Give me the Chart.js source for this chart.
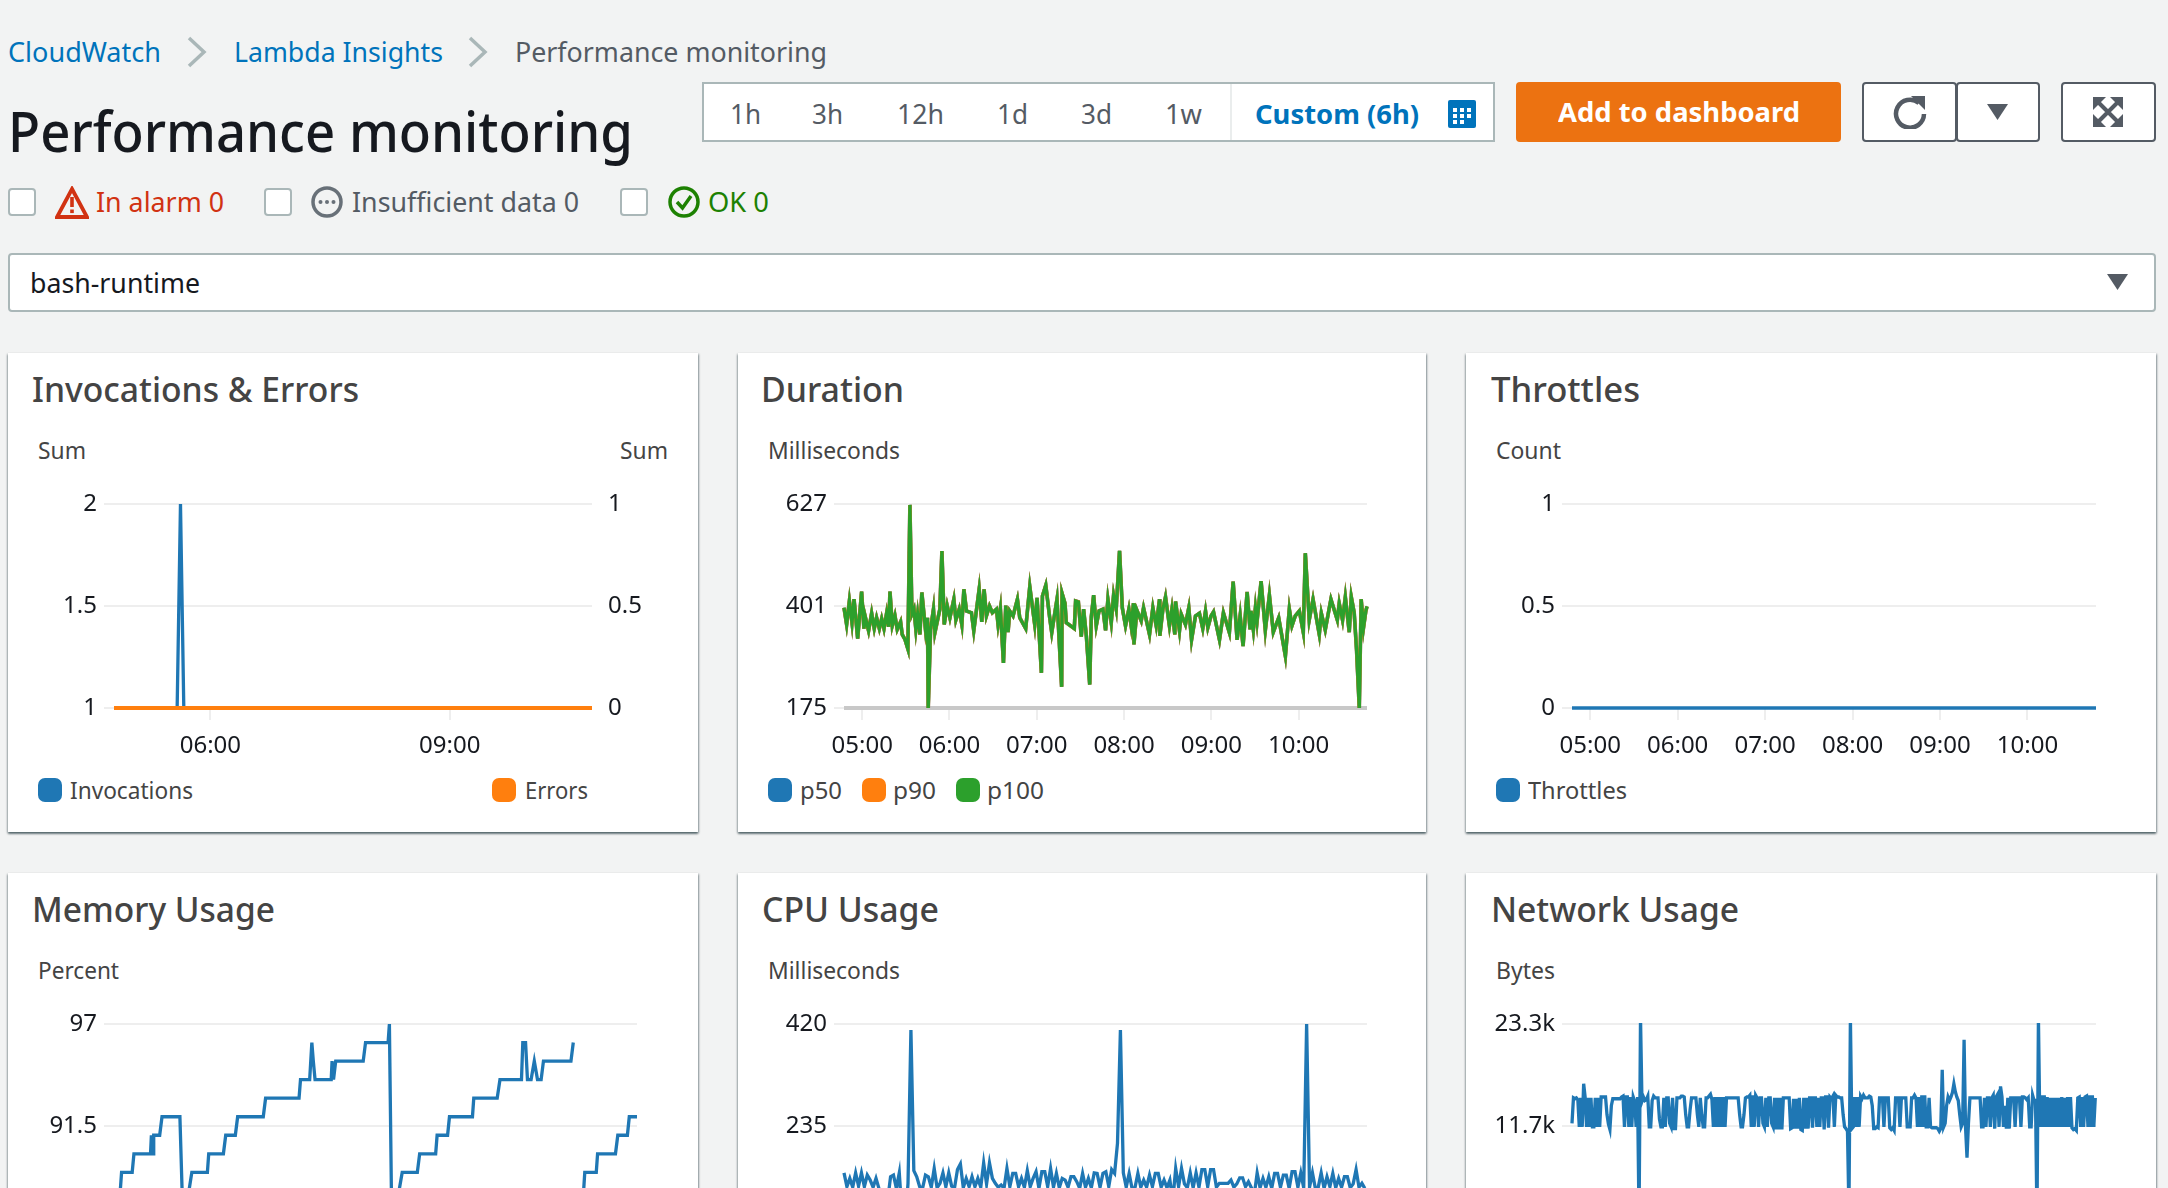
<!DOCTYPE html>
<html><head><meta charset="utf-8"><title>Performance monitoring</title>
<script src="https://cdn.jsdelivr.net/npm/chart.js@4/dist/chart.umd.min.js"></script>
<style>
html,body{margin:0;padding:0;width:2168px;height:1188px;overflow:hidden;background:#f2f3f3;font-family:"Noto Sans",sans-serif}
#page{position:relative;width:2168px;height:1188px;overflow:hidden}
.t{position:absolute;white-space:nowrap;transform-origin:0 50%}
.box{position:absolute;box-sizing:border-box;background:#fff}
.panel{box-shadow:0 2px 2px rgba(0,28,36,.45),1px 1px 2px rgba(0,28,36,.3),-1px 1px 2px rgba(0,28,36,.2)}
.cb{border:2px solid #aab7b8;border-radius:4px}
.sw{position:absolute;width:24px;height:24px;border-radius:7px}
canvas{position:absolute}
svg{position:absolute}
</style></head><body><div id="page"></div>
<script>
const hourTicks=[300,360,420,480,540,600];
const invTicks=[360,540];
const invLeftTicks=[1,1.5,2];
const invRightTicks=[0,0.5,1];
const durationTicks=[175,401,627];
const throttleTicks=[0,0.5,1];
const memoryTicks=[86,91.5,97];
const cpuTicks=[50,235,420];
const networkTicks=[0.1,11.7,23.3];
const rangeStart=287.5, rangeEnd=647, cpuStep=2, networkStep=1;

const invocationTimes=[287.5,335,337.5,340,647];
const invocationValues=[1,1,2,1,1];
const errorTimes=[287.5,647];
const errorValues=[0,0];
const throttleTimes=[287.5,647];
const throttleValues=[0,0];

const durationTimes=[287.5,289.3,291.2,293,294.4,296.9,299.6,301.2,301.9,304.4,
306.5,308.3,309.9,311.8,313.4,315,316.8,318.2,319.1,320.7,
322.5,324.1,326.4,327.5,329.4,331.4,332.8,334.2,335.6,336.9,
338.1,339.7,341,343.6,344.9,345.4,347,349,350,353.4,
354.8,356.4,358.4,360.3,363,364.4,366.7,368.5,369.9,371.7,
375.1,376.7,380.4,382.2,383.8,385.4,387.5,389.5,392.3,393.4,
395,397.1,398.7,400.3,401.4,403.7,406.7,408.3,412.4,415.2,
418.6,420.2,423.2,423.9,426.2,428.9,430.3,433.9,437.1,437.4,
439.4,440.3,445.8,446.7,448.6,450.6,452.2,454.1,456.4,457.5,
459.1,460.9,462.8,465.5,467.3,468.9,
471.2,472.8,474.6,476.9,478.8,481,483.3,484.9,486.5,486.8,
488.8,491.8,493.4,497.5,499.8,502.1,504.4,504.6,506.7,508.5,
511.2,512.9,514.9,515.4,518.1,519.3,522.2,524.5,526.4,529.1,
531.8,534.1,536,537.6,539.8,541.5,545.6,548.3,552.4,555,
557.7,559.8,561.8,564.6,566.6,567.3,568.9,570.3,571.4,574.2,
577.1,579.9,582.6,586.3,590.9,593.6,595.4,597.7,600.5,603.2,
604.6,607.3,609.9,614.2,615.6,618.3,622.2,626.6,627.9,630.2,
632.1,634.8,636.2,638.2,639.8,641.7,643,644.6,646.2,647];
const durationValues=[397,360,412,364,416,329,433,351,380,346,
385,351,375,351,373,351,385,355,433,358,
380,349,366,338,327,306,625,383,394,349,
383,338,431,346,375,175,349,394,342,394,
523,360,402,375,416,370,394,360,438,390,
386,346,438,366,438,379,401,386,394,360,
395,275,402,343,390,379,416,375,351,444,
360,419,253,423,447,375,342,416,222,429,
407,364,351,412,410,333,394,334,227,377,
425,357,390,394,347,416,
364,425,394,523,397,357,394,357,407,316,
392,368,397,338,397,357,416,335,394,421,
357,394,338,411,346,383,360,397,326,379,
385,351,390,353,379,388,326,386,342,455,
326,380,312,432,349,390,348,397,366,456,
347,425,343,375,290,394,357,379,390,343,
518,370,416,338,385,348,416,370,407,370,
421,343,421,386,305,175,416,353,390,400];
const durationFloorTimes=[287.5,647];
const durationFloorValues=[175,175];

const memoryTimes=[287.4,291.8,292.7,300,301.2,312.6,313.2,314.5,314.8,318.9,
320.5,332.8,334.7,339,341,351.7,352.6,362.7,364.3,370.9,
372.5,390.1,391.7,414.7,415.7,422,423.5,424.5,425.7,436.8,
437.4,438.4,439.9,458.8,460.4,475.9,476.8,478.4,483.4,485.6,
496,497.6,508.6,509.6,516.8,518.1,533.9,534.8,550.9,552.8,
567.6,568.5,570.4,571.7,574.2,576.4,578.6,581.1,582.7,601.6,
603.2,604,609.5,611.1,619,619.9,632.2,633.8,640.4,641.7,647];
const memoryValues=[88,88,89,89,90,90,91,90,91,91,
92,92,87,88,89,89,90,90,91,91,
92,92,93,93,94,94,96,95,94,94,
95,94,95,95,96,96,97,86.5,88,89,
89,90,90,91,91,92,92,93,93,94,
94,96,96,94,94,95,94,94,95,95,
96,null,87,89,89,90,90,91,91,92,92];

const cpuValues=[150,125,140,124,150,126,150,125,146,137,124,140,122,85,70,100,143,146,122,150,
70,60,131,409,154,143,125,122,146,143,124,158,123,131,150,125,150,126,123,156,
166,123,140,125,143,125,140,124,168,130,168,140,131,124,128,122,158,125,149,149,
125,140,124,154,125,140,152,122,152,152,125,158,124,149,123,140,137,124,143,143,
134,122,149,124,140,123,150,149,124,149,152,125,156,149,204,409,150,124,149,122,
123,149,124,137,124,146,125,149,149,124,137,123,137,100,158,125,158,130,123,150,
123,150,124,156,156,125,156,156,124,131,131,131,131,137,124,130,141,141,125,134,
123,110,150,123,140,124,143,122,149,149,124,146,146,122,152,152,124,150,123,420,
124,150,122,124,150,122,143,125,149,123,140,124,143,143,123,130,156,124,131,122];

const networkValues=[12,14.9,14.8,14.9,14.7,11.6,14.9,11.6,16.5,15,11.6,14.9,11.6,14.9,11.6,11.6,14.9,11.6,14.9,11.6,
15,15,15,15,13,11.9,11.3,14,14.8,14.8,14.8,14.8,14.8,14.8,15,15.1,11.6,15,15,11.6,
15,11.6,15,14.5,11.6,15,1,24,14.5,15,14.6,14.7,15.1,11.6,11.6,14.6,15.1,14.9,14.9,14.9,
12.5,11.6,11.6,14.9,11.6,14.9,14.9,12,11.6,14.9,11.4,11.4,14.9,14.9,14.9,15.1,15.1,15,13,11.6,
11.6,13.5,14.9,14.9,14.9,14.9,13,11.6,14.9,13,11.6,11.6,14.9,14.9,15.1,15.3,14.7,11.6,15,11.6,
15,11.6,15,11.6,15,11.6,14.9,14.9,14.9,14.9,14.9,14.9,14.9,14.9,14.9,13,11.6,11.6,13,14.9,
15,15,15.2,11.6,15.2,11.6,15.2,14.9,11.6,14.9,14.9,12,11.6,14.9,11.6,14.9,14.9,12,11.6,14.9,
11.3,14.9,11.3,14.9,11.3,14.9,14.9,14.9,14.9,14.9,11.4,11.5,14.8,11.4,14.8,11.4,14.9,11.3,11.2,14.9,
11.4,14.9,11.4,14.9,14.9,11.5,14.9,14.9,11.6,14.9,11.6,14.9,14.9,11.3,15,15,11.5,15,14.8,15.1,
11.6,15.2,15,15,14.9,14.9,13,11.6,11.4,11.1,2,24,11.4,11.6,15,11.6,15,11.6,15.1,14.8,
15.2,14.9,14.9,14.9,15.1,15,14,11.4,11.4,11.6,11.5,14.9,14.9,14.9,11.6,14.9,14.9,14.9,11.5,11.3,
11.5,11.2,14.9,14.9,14.9,11.6,14.9,14.9,14.9,14.9,11.6,11.6,11.6,14.9,14.9,15.2,14.9,11.6,15,11.6,
15.2,11.6,15.2,11.6,11.6,14.9,11.6,11.5,11.5,11.5,11.5,11.4,11.1,11.4,18.1,11.6,12,14,15,14.6,
15,15.5,16.5,15.6,15,14.6,13,11.6,12,21.5,11.5,8.1,12,14.9,14.9,14.9,14.9,14.9,14.9,14.9,
14.9,11.6,11.6,14.9,11.6,14.9,14.9,11.6,14.9,15.2,11.4,15,15.3,11.6,16.2,15,11.6,14,11.4,14.9,
11.4,14.9,14.9,14.9,11.6,14.9,14.9,14.9,11.6,15,15,14.9,14.7,14.9,11.6,11.6,15.2,14.6,14.6,1,
24,11.6,15.2,11.6,15.2,11.6,15,11.6,14.9,11.6,14.9,11.6,14.9,11.6,14.9,11.6,15,11.6,14.9,11.6,
15,11.6,15,11.5,11.3,11.4,11.2,14.9,15,11.6,15,11.6,15,15.1,11.6,15.2,11.6,15.2,11.6,14.9];

const BLUE='#1f77b4',ORANGE='#ff7f0e',GREEN='#2ca02c',GRID='#eeeeee',FLOOR='#c8c8c8';
const INK='#16191f',GREY='#545b64',TITLE='#444444',LINK='#0073bb';
const page=document.getElementById('page');
const FONT='"Noto Sans",sans-serif';

function box(x,y,w,h,cls,extra){const d=document.createElement('div');d.className='box '+(cls||'');d.style.cssText=`left:${x}px;top:${y}px;width:${w}px;height:${h}px;${extra||''}`;page.appendChild(d);return d;}
const fits=[];
function text(s,x,cy,size,color,w,weight){const d=document.createElement('div');d.className='t';d.textContent=s;d.style.cssText=`left:${x}px;top:${cy-size*0.7}px;height:${size*1.4}px;line-height:${size*1.4}px;font-size:${size}px;color:${color};font-weight:${weight||400};`;page.appendChild(d);if(w)fits.push([d,w]);return d;}
function svg(x,y,w,h,body){const wrap=document.createElement('div');wrap.innerHTML=`<svg style="left:${x}px;top:${y}px" width="${w}" height="${h}" viewBox="0 0 ${w} ${h}">${body}</svg>`;page.appendChild(wrap.firstChild);}
function swatch(x,y,c){const d=document.createElement('div');d.className='sw';d.style.cssText=`left:${x}px;top:${y}px;background:${c}`;page.appendChild(d);}

// ---- header ----
text('CloudWatch',8,52,27,LINK,153);
svg(186,36,22,32,'<path d="M3 2 L18 16 L3 30" fill="none" stroke="#aab7b8" stroke-width="3.5"/>');
text('Lambda Insights',234,52,27,LINK,209);
svg(467,36,22,32,'<path d="M3 2 L18 16 L3 30" fill="none" stroke="#aab7b8" stroke-width="3.5"/>');
text('Performance monitoring',515,52,27,GREY,312);
text('Performance monitoring',8,130,56,INK,625,500);

box(702,82,793,60,'','border:2px solid #aab7b8;');
box(1230,84,2,56,'','background:#eaeded;');
[['1h',730,31],['3h',812,31],['12h',897,47],['1d',997,31],['3d',1081,31],['1w',1165,37]].forEach(a=>text(a[0],a[1],114,27,GREY,a[2]));
text('Custom (6h)',1255,114,27,LINK,164,700);
svg(1448,100,28,28,'<rect width="28" height="28" rx="2" fill="#0073bb"/><g fill="#fff"><rect x="5" y="8" width="4" height="4"/><rect x="12" y="8" width="4" height="4"/><rect x="19" y="8" width="4" height="4"/><rect x="5" y="14" width="4" height="4"/><rect x="12" y="14" width="4" height="4"/><rect x="19" y="14" width="4" height="4"/><rect x="5" y="20" width="4" height="4"/><rect x="12" y="20" width="4" height="4"/></g>');
box(1516,82,325,60,'','background:#ec7211;border-radius:4px;');
text('Add to dashboard',1558,112,27,'#ffffff',242,700);
box(1862,82,95,60,'','border:2px solid #545b64;border-radius:4px;');
box(1956,82,84,60,'','border:2px solid #545b64;border-radius:4px;');
box(2061,82,95,60,'','border:2px solid #545b64;border-radius:4px;');
svg(1893,95,34,34,'<path d="M26 8 A14 14 0 1 0 31 19" fill="none" stroke="#545b64" stroke-width="4.5"/><path d="M18 1 L32 1 L32 15 Z" fill="#545b64"/>');
svg(1987,103,22,18,'<path d="M0 1 L21 1 L10.5 17 Z" fill="#545b64"/>');
svg(2093,97,30,30,'<g fill="#545b64"><path d="M0 0H13L0 13Z"/><path d="M30 0H17L30 13Z"/><path d="M0 30H13L0 17Z"/><path d="M30 30H17L30 17Z"/></g><path d="M4 4L26 26M26 4L4 26" stroke="#545b64" stroke-width="4"/>');

box(8,188,28,28,'cb');
svg(55,186,34,33,'<path d="M17 3 L32 31 L2 31 Z" fill="none" stroke="#d13212" stroke-width="3.8" stroke-linejoin="miter"/><rect x="15.2" y="11" width="3.6" height="10" fill="#d13212"/><rect x="15.2" y="23.5" width="3.6" height="3.6" fill="#d13212"/>');
text('In alarm 0',96,202,27,'#d13212',128);
box(264,188,28,28,'cb');
svg(311,186,32,32,'<circle cx="16" cy="16" r="14" fill="none" stroke="#687078" stroke-width="3.5"/><g fill="#687078"><circle cx="9.5" cy="16" r="2"/><circle cx="16" cy="16" r="2"/><circle cx="22.5" cy="16" r="2"/></g>');
text('Insufficient data 0',352,202,27,GREY,227);
box(620,188,28,28,'cb');
svg(668,186,32,32,'<circle cx="16" cy="16" r="14" fill="none" stroke="#1d8102" stroke-width="3.5"/><path d="M9 16 L14.5 22 L23 10" fill="none" stroke="#1d8102" stroke-width="3.5"/>');
text('OK 0',708,202,27,'#1d8102',61);

box(8,253,2148,59,'','border:2px solid #aab7b8;border-radius:4px;');
text('bash-runtime',30,283,27,INK,170);
svg(2107,274,22,17,'<path d="M0 0 L21 0 L10.5 16 Z" fill="#545b64"/>');

// ---- panels ----
function panel(x,y,w,h){box(x,y,w,h,'panel');}
panel(8,353,690,479);panel(738,353,688,479);panel(1466,353,690,479);
panel(8,873,690,400);panel(738,873,688,400);panel(1466,873,690,400);

text('Invocations & Errors',32,390,34,TITLE,327,500);
text('Sum',38,450,24,TITLE,48);
text('Sum',620,450,24,TITLE,48);
swatch(38,778,BLUE);text('Invocations',70,790,24,TITLE,123);
swatch(492,778,ORANGE);text('Errors',525,790,24,TITLE,63);

text('Duration',761,390,34,TITLE,143,500);
text('Milliseconds',768,450,24,TITLE,132);
swatch(768,778,BLUE);text('p50',800,790,24,TITLE,42);
swatch(862,778,ORANGE);text('p90',893,790,24,TITLE,43);
swatch(956,778,GREEN);text('p100',987,790,24,TITLE,57);

text('Throttles',1491,390,34,TITLE,149,500);
text('Count',1496,450,24,TITLE,65);
swatch(1496,778,BLUE);text('Throttles',1528,790,24,TITLE,99);

text('Memory Usage',32,910,34,TITLE,243,500);
text('Percent',38,970,24,TITLE,81);
text('CPU Usage',762,910,34,TITLE,177,500);
text('Milliseconds',768,970,24,TITLE,132);
text('Network Usage',1491,910,34,TITLE,248,500);
text('Bytes',1496,970,24,TITLE,59);

// ---- charts ----
Chart.defaults.font.family=FONT;
Chart.defaults.animation=false;
const hhmm=m=>String(Math.floor(m/60)).padStart(2,'0')+':'+String(Math.round(m%60)).padStart(2,'0');
const pts=(ts,vs)=>vs.map((v,i)=>({x:ts[i],y:v}));
const uniform=(vs,step)=>vs.map((v,i)=>({x:rangeStart+i*step,y:v}));
function line(label,data,color,opts){return Object.assign({label,data,borderColor:color,backgroundColor:color,borderWidth:3.3,pointRadius:0,tension:0,fill:false,borderJoinStyle:'miter',clip:{left:2,right:2,top:1,bottom:3}},opts||{});}
const tickFont={size:24,family:FONT};
function yScale(ticks,pos,fmt,right){return {
  type:'linear',position:pos,min:ticks[0],max:ticks[ticks.length-1],
  afterBuildTicks:s=>{s.ticks=ticks.map(v=>({value:v}));},
  afterFit:s=>{s.width=106;},
  border:{display:false},
  grid:right?{display:true,drawOnChartArea:false,drawTicks:true,tickLength:8,tickColor:'rgba(0,0,0,0)'}:{color:GRID,lineWidth:2,tickLength:10,tickColor:GRID},
  ticks:{color:INK,font:tickFont,padding:right?8:7,autoSkip:false,callback:fmt||(v=>String(v))}
};}
function makeChart(x,y,w,rightPad,datasets,xTicks,scalesY){
  const c=document.createElement('canvas');
  c.style.left=x+'px';c.style.top=y+'px';c.style.width=w+'px';c.style.height='290px';c.width=w;c.height=290;
  page.appendChild(c);
  new Chart(c,{type:'line',data:{datasets},options:{
    responsive:false,devicePixelRatio:1,animation:false,
    layout:{autoPadding:false,padding:{top:24,right:rightPad,left:0,bottom:0}},
    plugins:{legend:{display:false},tooltip:{enabled:false},title:{display:false}},
    scales:Object.assign({x:{
      type:'linear',min:rangeStart,max:rangeEnd,
      afterBuildTicks:s=>{s.ticks=xTicks.map(v=>({value:v}));},
      afterFit:s=>{s.height=62;},
      border:{display:false},
      grid:{drawOnChartArea:false,drawTicks:true,tickLength:12,color:GRID,lineWidth:2,tickColor:GRID},
      ticks:{color:INK,font:tickFont,padding:12,autoSkip:false,maxRotation:0,minRotation:0,callback:v=>hhmm(v)}
    }},scalesY)
  }});
}
makeChart(8,480,690,0,[
  line('Errors',pts(errorTimes,errorValues),ORANGE,{yAxisID:'y1',order:0,borderWidth:4}),
  line('Invocations',pts(invocationTimes,invocationValues),BLUE,{yAxisID:'y',order:1})
],invTicks,{y:yScale(invLeftTicks,'left'),y1:yScale(invRightTicks,'right',null,true)});

const durationPts=pts(durationTimes,durationValues);
makeChart(738,480,688,59,[
  line('p100',durationPts,GREEN,{order:0}),
  line('p90',durationPts,ORANGE,{order:1,borderWidth:3.6}),
  line('p50',durationPts,BLUE,{order:2,borderWidth:3.6}),
  line('floor',pts(durationFloorTimes,durationFloorValues),FLOOR,{order:3,borderWidth:4})
],hourTicks,{y:yScale(durationTicks,'left')});

makeChart(1466,480,690,60,[
  line('Throttles',pts(throttleTimes,throttleValues),BLUE,{borderWidth:3.5})
],hourTicks,{y:yScale(throttleTicks,'left')});

makeChart(8,1000,690,61,[
  line('Memory',pts(memoryTimes,memoryValues),BLUE,{spanGaps:false})
],hourTicks,{y:yScale(memoryTicks,'left')});

makeChart(738,1000,688,59,[
  line('CPU',uniform(cpuValues,cpuStep),BLUE)
],hourTicks,{y:yScale(cpuTicks,'left')});

makeChart(1466,1000,690,60,[
  line('Network',uniform(networkValues,networkStep),BLUE)
],hourTicks,{y:yScale(networkTicks,'left',v=>v+'k')});

// squeeze the wider installed font to the reference text widths
function applyFits(){fits.forEach(([d,w])=>{d.style.transform='none';const r=w/d.getBoundingClientRect().width;d.style.transform=`scaleX(${r})`;});}
applyFits();
if(document.fonts&&document.fonts.ready)document.fonts.ready.then(applyFits);
</script></body></html>
